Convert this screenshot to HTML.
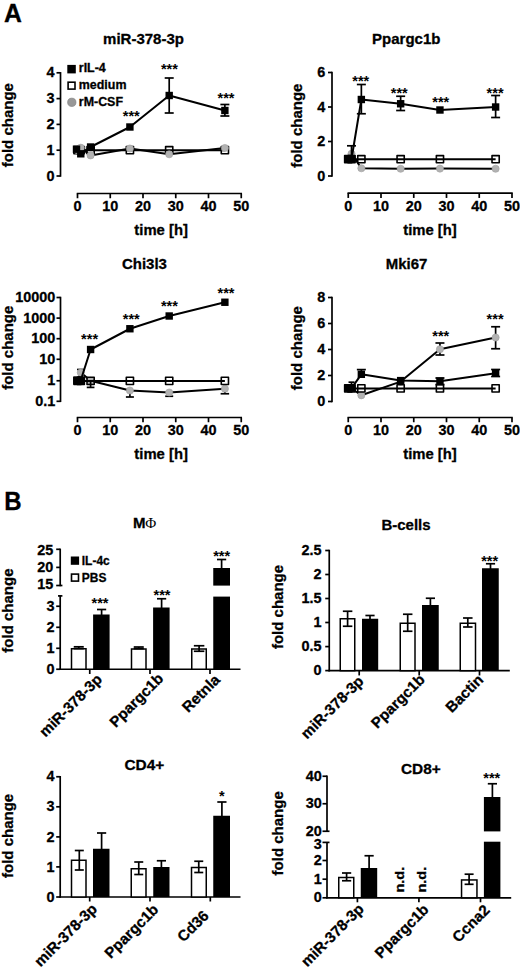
<!DOCTYPE html>
<html>
<head>
<meta charset="utf-8">
<title>Figure</title>
<style>
html, body { margin: 0; padding: 0; background: #ffffff; }
body { width: 520px; height: 971px; overflow: hidden; font-family: "Liberation Sans", sans-serif; }
svg { display: block; }
svg text { font-family: "Liberation Sans", sans-serif; }
</style>
</head>
<body>
<svg width="520" height="971" viewBox="0 0 520 971">
<rect x="0" y="0" width="520" height="971" fill="#ffffff"/>
<line x1="60.5" y1="72.05" x2="60.5" y2="176.75" stroke="#000" stroke-width="1.7" stroke-linecap="butt"/>
<line x1="56.5" y1="72.8" x2="60.5" y2="72.8" stroke="#000" stroke-width="1.7" stroke-linecap="butt"/>
<text transform="translate(54.6,77.4) scale(0.95,1)" font-size="15.2" text-anchor="end" font-weight="bold" fill="#000" stroke="#000" stroke-width="0.3">4</text>
<line x1="56.5" y1="98.6" x2="60.5" y2="98.6" stroke="#000" stroke-width="1.7" stroke-linecap="butt"/>
<text transform="translate(54.6,103.2) scale(0.95,1)" font-size="15.2" text-anchor="end" font-weight="bold" fill="#000" stroke="#000" stroke-width="0.3">3</text>
<line x1="56.5" y1="124.4" x2="60.5" y2="124.4" stroke="#000" stroke-width="1.7" stroke-linecap="butt"/>
<text transform="translate(54.6,129) scale(0.95,1)" font-size="15.2" text-anchor="end" font-weight="bold" fill="#000" stroke="#000" stroke-width="0.3">2</text>
<line x1="56.5" y1="150.2" x2="60.5" y2="150.2" stroke="#000" stroke-width="1.7" stroke-linecap="butt"/>
<text transform="translate(54.6,154.8) scale(0.95,1)" font-size="15.2" text-anchor="end" font-weight="bold" fill="#000" stroke="#000" stroke-width="0.3">1</text>
<line x1="56.5" y1="176" x2="60.5" y2="176" stroke="#000" stroke-width="1.7" stroke-linecap="butt"/>
<text transform="translate(54.6,180.6) scale(0.95,1)" font-size="15.2" text-anchor="end" font-weight="bold" fill="#000" stroke="#000" stroke-width="0.3">0</text>
<line x1="76.75" y1="193.5" x2="242" y2="193.5" stroke="#000" stroke-width="1.7" stroke-linecap="butt"/>
<line x1="77.5" y1="193.5" x2="77.5" y2="198.25" stroke="#000" stroke-width="1.7" stroke-linecap="butt"/>
<text transform="translate(77.5,211.2) scale(0.95,1)" font-size="15.2" text-anchor="middle" font-weight="bold" fill="#000" stroke="#000" stroke-width="0.3">0</text>
<line x1="110.25" y1="193.5" x2="110.25" y2="198.25" stroke="#000" stroke-width="1.7" stroke-linecap="butt"/>
<text transform="translate(110.25,211.2) scale(0.95,1)" font-size="15.2" text-anchor="middle" font-weight="bold" fill="#000" stroke="#000" stroke-width="0.3">10</text>
<line x1="143" y1="193.5" x2="143" y2="198.25" stroke="#000" stroke-width="1.7" stroke-linecap="butt"/>
<text transform="translate(143,211.2) scale(0.95,1)" font-size="15.2" text-anchor="middle" font-weight="bold" fill="#000" stroke="#000" stroke-width="0.3">20</text>
<line x1="175.75" y1="193.5" x2="175.75" y2="198.25" stroke="#000" stroke-width="1.7" stroke-linecap="butt"/>
<text transform="translate(175.75,211.2) scale(0.95,1)" font-size="15.2" text-anchor="middle" font-weight="bold" fill="#000" stroke="#000" stroke-width="0.3">30</text>
<line x1="208.5" y1="193.5" x2="208.5" y2="198.25" stroke="#000" stroke-width="1.7" stroke-linecap="butt"/>
<text transform="translate(208.5,211.2) scale(0.95,1)" font-size="15.2" text-anchor="middle" font-weight="bold" fill="#000" stroke="#000" stroke-width="0.3">40</text>
<line x1="241.25" y1="193.5" x2="241.25" y2="198.25" stroke="#000" stroke-width="1.7" stroke-linecap="butt"/>
<text transform="translate(241.25,211.2) scale(0.95,1)" font-size="15.2" text-anchor="middle" font-weight="bold" fill="#000" stroke="#000" stroke-width="0.3">50</text>
<text transform="translate(161.1,234.5) scale(0.99,1)" font-size="15" text-anchor="middle" font-weight="bold" fill="#000" stroke="#000" stroke-width="0.3">time [h]</text>
<text transform="translate(143.5,43.9)" font-size="15" text-anchor="middle" font-weight="bold" fill="#000" stroke="#000" stroke-width="0.3">miR-378-3p</text>
<text transform="translate(13.3,125.2) rotate(-90)" font-size="15" text-anchor="middle" font-weight="bold" fill="#000" stroke="#000" stroke-width="0.3">fold change</text>
<polyline points="77.5,150.2 80.78,150.2 90.6,150.2 129.9,150.2 169.2,150.2 224.88,150.2" fill="none" stroke="#000" stroke-width="2" stroke-linejoin="round"/>
<rect x="73.9" y="146.6" width="7.2" height="7.2" fill="none" stroke="#000" stroke-width="1.6" stroke-linejoin="round"/>
<rect x="77.18" y="146.6" width="7.2" height="7.2" fill="none" stroke="#000" stroke-width="1.6" stroke-linejoin="round"/>
<rect x="87" y="146.6" width="7.2" height="7.2" fill="none" stroke="#000" stroke-width="1.6" stroke-linejoin="round"/>
<rect x="126.3" y="146.6" width="7.2" height="7.2" fill="none" stroke="#000" stroke-width="1.6" stroke-linejoin="round"/>
<rect x="165.6" y="146.6" width="7.2" height="7.2" fill="none" stroke="#000" stroke-width="1.6" stroke-linejoin="round"/>
<rect x="221.28" y="146.6" width="7.2" height="7.2" fill="none" stroke="#000" stroke-width="1.6" stroke-linejoin="round"/>
<polyline points="77.5,150.2 80.78,147.7 90.6,155.4 129.9,148.5 169.2,154.25 224.88,148" fill="none" stroke="#000" stroke-width="2" stroke-linejoin="round"/>
<circle cx="77.5" cy="150.2" r="3.6" fill="#b2b2b2" stroke="#a0a0a0" stroke-width="0.6"/>
<circle cx="80.78" cy="147.7" r="3.6" fill="#b2b2b2" stroke="#a0a0a0" stroke-width="0.6"/>
<circle cx="90.6" cy="155.4" r="3.6" fill="#b2b2b2" stroke="#a0a0a0" stroke-width="0.6"/>
<circle cx="129.9" cy="148.5" r="3.6" fill="#b2b2b2" stroke="#a0a0a0" stroke-width="0.6"/>
<circle cx="169.2" cy="154.25" r="3.6" fill="#b2b2b2" stroke="#a0a0a0" stroke-width="0.6"/>
<circle cx="224.88" cy="148" r="3.6" fill="#b2b2b2" stroke="#a0a0a0" stroke-width="0.6"/>
<line x1="169.2" y1="78" x2="169.2" y2="113" stroke="#000" stroke-width="1.7" stroke-linecap="butt"/>
<line x1="164.7" y1="78" x2="173.7" y2="78" stroke="#000" stroke-width="1.7" stroke-linecap="butt"/>
<line x1="164.7" y1="113" x2="173.7" y2="113" stroke="#000" stroke-width="1.7" stroke-linecap="butt"/>
<line x1="224.88" y1="104.5" x2="224.88" y2="116" stroke="#000" stroke-width="1.7" stroke-linecap="butt"/>
<line x1="220.38" y1="104.5" x2="229.38" y2="104.5" stroke="#000" stroke-width="1.7" stroke-linecap="butt"/>
<line x1="220.38" y1="116" x2="229.38" y2="116" stroke="#000" stroke-width="1.7" stroke-linecap="butt"/>
<polyline points="76.5,149.2 80.78,153.8 90.6,147 129.9,127 169.2,95.5 224.88,110.5" fill="none" stroke="#000" stroke-width="2" stroke-linejoin="round"/>
<rect x="72.8" y="145.5" width="7.4" height="7.4" fill="#000"/>
<rect x="77.08" y="150.1" width="7.4" height="7.4" fill="#000"/>
<rect x="86.9" y="143.3" width="7.4" height="7.4" fill="#000"/>
<rect x="126.2" y="123.3" width="7.4" height="7.4" fill="#000"/>
<rect x="165.5" y="91.8" width="7.4" height="7.4" fill="#000"/>
<rect x="221.18" y="106.8" width="7.4" height="7.4" fill="#000"/>
<text transform="translate(131.3,120.6) scale(0.97,1)" font-size="15" text-anchor="middle" font-weight="bold" fill="#000">***</text>
<text transform="translate(169.4,73.85) scale(0.97,1)" font-size="15" text-anchor="middle" font-weight="bold" fill="#000">***</text>
<text transform="translate(226,102.6) scale(0.97,1)" font-size="15" text-anchor="middle" font-weight="bold" fill="#000">***</text>
<rect x="67.3" y="64.9" width="8.5" height="8.5" fill="#000"/>
<text transform="translate(78.8,72.4) scale(1.02,1)" font-size="12.2" text-anchor="start" font-weight="bold" fill="#000" stroke="#000" stroke-width="0.3">rIL-4</text>
<rect x="68.1" y="82.2" width="6.9" height="6.9" fill="none" stroke="#000" stroke-width="1.6" stroke-linejoin="miter"/>
<text transform="translate(78.8,89.3) scale(1.02,1)" font-size="12.2" text-anchor="start" font-weight="bold" fill="#000" stroke="#000" stroke-width="0.3">medium</text>
<circle cx="71.8" cy="102.3" r="4.1" fill="#989898" stroke="#848484" stroke-width="0.8"/>
<text transform="translate(78.8,106) scale(1.02,1)" font-size="12.2" text-anchor="start" font-weight="bold" fill="#000" stroke="#000" stroke-width="0.3">rM-CSF</text>
<line x1="332" y1="71.75" x2="332" y2="176.75" stroke="#000" stroke-width="1.7" stroke-linecap="butt"/>
<line x1="328" y1="72.5" x2="332" y2="72.5" stroke="#000" stroke-width="1.7" stroke-linecap="butt"/>
<text transform="translate(325.3,77.1) scale(0.95,1)" font-size="15.2" text-anchor="end" font-weight="bold" fill="#000" stroke="#000" stroke-width="0.3">6</text>
<line x1="328" y1="107" x2="332" y2="107" stroke="#000" stroke-width="1.7" stroke-linecap="butt"/>
<text transform="translate(325.3,111.6) scale(0.95,1)" font-size="15.2" text-anchor="end" font-weight="bold" fill="#000" stroke="#000" stroke-width="0.3">4</text>
<line x1="328" y1="141.5" x2="332" y2="141.5" stroke="#000" stroke-width="1.7" stroke-linecap="butt"/>
<text transform="translate(325.3,146.1) scale(0.95,1)" font-size="15.2" text-anchor="end" font-weight="bold" fill="#000" stroke="#000" stroke-width="0.3">2</text>
<line x1="328" y1="176" x2="332" y2="176" stroke="#000" stroke-width="1.7" stroke-linecap="butt"/>
<text transform="translate(325.3,180.6) scale(0.95,1)" font-size="15.2" text-anchor="end" font-weight="bold" fill="#000" stroke="#000" stroke-width="0.3">0</text>
<line x1="347.5" y1="193.2" x2="512.75" y2="193.2" stroke="#000" stroke-width="1.7" stroke-linecap="butt"/>
<line x1="348.25" y1="193.2" x2="348.25" y2="197.95" stroke="#000" stroke-width="1.7" stroke-linecap="butt"/>
<text transform="translate(348.25,210.9) scale(0.95,1)" font-size="15.2" text-anchor="middle" font-weight="bold" fill="#000" stroke="#000" stroke-width="0.3">0</text>
<line x1="381" y1="193.2" x2="381" y2="197.95" stroke="#000" stroke-width="1.7" stroke-linecap="butt"/>
<text transform="translate(381,210.9) scale(0.95,1)" font-size="15.2" text-anchor="middle" font-weight="bold" fill="#000" stroke="#000" stroke-width="0.3">10</text>
<line x1="413.75" y1="193.2" x2="413.75" y2="197.95" stroke="#000" stroke-width="1.7" stroke-linecap="butt"/>
<text transform="translate(413.75,210.9) scale(0.95,1)" font-size="15.2" text-anchor="middle" font-weight="bold" fill="#000" stroke="#000" stroke-width="0.3">20</text>
<line x1="446.5" y1="193.2" x2="446.5" y2="197.95" stroke="#000" stroke-width="1.7" stroke-linecap="butt"/>
<text transform="translate(446.5,210.9) scale(0.95,1)" font-size="15.2" text-anchor="middle" font-weight="bold" fill="#000" stroke="#000" stroke-width="0.3">30</text>
<line x1="479.25" y1="193.2" x2="479.25" y2="197.95" stroke="#000" stroke-width="1.7" stroke-linecap="butt"/>
<text transform="translate(479.25,210.9) scale(0.95,1)" font-size="15.2" text-anchor="middle" font-weight="bold" fill="#000" stroke="#000" stroke-width="0.3">40</text>
<line x1="512" y1="193.2" x2="512" y2="197.95" stroke="#000" stroke-width="1.7" stroke-linecap="butt"/>
<text transform="translate(512,210.9) scale(0.95,1)" font-size="15.2" text-anchor="middle" font-weight="bold" fill="#000" stroke="#000" stroke-width="0.3">50</text>
<text transform="translate(430,234.5) scale(0.99,1)" font-size="15" text-anchor="middle" font-weight="bold" fill="#000" stroke="#000" stroke-width="0.3">time [h]</text>
<text transform="translate(406.25,44.15)" font-size="15" text-anchor="middle" font-weight="bold" fill="#000" stroke="#000" stroke-width="0.3">Ppargc1b</text>
<text transform="translate(302.2,125.7) rotate(-90)" font-size="15" text-anchor="middle" font-weight="bold" fill="#000" stroke="#000" stroke-width="0.3">fold change</text>
<polyline points="348.25,158.75 351.52,153.75 361.35,168.25 400.65,168.75 439.95,168.6 495.62,168.75" fill="none" stroke="#000" stroke-width="2" stroke-linejoin="round"/>
<circle cx="348.25" cy="158.75" r="3.6" fill="#b2b2b2" stroke="#a0a0a0" stroke-width="0.6"/>
<circle cx="351.52" cy="153.75" r="3.6" fill="#b2b2b2" stroke="#a0a0a0" stroke-width="0.6"/>
<circle cx="361.35" cy="168.25" r="3.6" fill="#b2b2b2" stroke="#a0a0a0" stroke-width="0.6"/>
<circle cx="400.65" cy="168.75" r="3.6" fill="#b2b2b2" stroke="#a0a0a0" stroke-width="0.6"/>
<circle cx="439.95" cy="168.6" r="3.6" fill="#b2b2b2" stroke="#a0a0a0" stroke-width="0.6"/>
<circle cx="495.62" cy="168.75" r="3.6" fill="#b2b2b2" stroke="#a0a0a0" stroke-width="0.6"/>
<polyline points="348.25,159.2 351.52,159.2 361.35,159.2 400.65,159.2 439.95,159.2 495.62,159.2" fill="none" stroke="#000" stroke-width="2" stroke-linejoin="round"/>
<rect x="344.65" y="155.6" width="7.2" height="7.2" fill="none" stroke="#000" stroke-width="1.6" stroke-linejoin="round"/>
<rect x="347.92" y="155.6" width="7.2" height="7.2" fill="none" stroke="#000" stroke-width="1.6" stroke-linejoin="round"/>
<rect x="357.75" y="155.6" width="7.2" height="7.2" fill="none" stroke="#000" stroke-width="1.6" stroke-linejoin="round"/>
<rect x="397.05" y="155.6" width="7.2" height="7.2" fill="none" stroke="#000" stroke-width="1.6" stroke-linejoin="round"/>
<rect x="436.35" y="155.6" width="7.2" height="7.2" fill="none" stroke="#000" stroke-width="1.6" stroke-linejoin="round"/>
<rect x="492.02" y="155.6" width="7.2" height="7.2" fill="none" stroke="#000" stroke-width="1.6" stroke-linejoin="round"/>
<line x1="351.52" y1="145.8" x2="351.52" y2="159" stroke="#000" stroke-width="1.7" stroke-linecap="butt"/>
<line x1="347.02" y1="145.8" x2="356.02" y2="145.8" stroke="#000" stroke-width="1.7" stroke-linecap="butt"/>
<line x1="361.35" y1="84.5" x2="361.35" y2="113.75" stroke="#000" stroke-width="1.7" stroke-linecap="butt"/>
<line x1="356.85" y1="84.5" x2="365.85" y2="84.5" stroke="#000" stroke-width="1.7" stroke-linecap="butt"/>
<line x1="356.85" y1="113.75" x2="365.85" y2="113.75" stroke="#000" stroke-width="1.7" stroke-linecap="butt"/>
<line x1="400.65" y1="96.25" x2="400.65" y2="110.5" stroke="#000" stroke-width="1.7" stroke-linecap="butt"/>
<line x1="396.15" y1="96.25" x2="405.15" y2="96.25" stroke="#000" stroke-width="1.7" stroke-linecap="butt"/>
<line x1="396.15" y1="110.5" x2="405.15" y2="110.5" stroke="#000" stroke-width="1.7" stroke-linecap="butt"/>
<line x1="495.62" y1="95.5" x2="495.62" y2="117.5" stroke="#000" stroke-width="1.7" stroke-linecap="butt"/>
<line x1="491.12" y1="95.5" x2="500.12" y2="95.5" stroke="#000" stroke-width="1.7" stroke-linecap="butt"/>
<line x1="491.12" y1="117.5" x2="500.12" y2="117.5" stroke="#000" stroke-width="1.7" stroke-linecap="butt"/>
<polyline points="348.25,159 351.52,159 361.35,99.5 400.65,103.75 439.95,110 495.62,107" fill="none" stroke="#000" stroke-width="2" stroke-linejoin="round"/>
<rect x="344.55" y="155.3" width="7.4" height="7.4" fill="#000"/>
<rect x="347.82" y="155.3" width="7.4" height="7.4" fill="#000"/>
<rect x="357.65" y="95.8" width="7.4" height="7.4" fill="#000"/>
<rect x="396.95" y="100.05" width="7.4" height="7.4" fill="#000"/>
<rect x="436.25" y="106.3" width="7.4" height="7.4" fill="#000"/>
<rect x="491.93" y="103.3" width="7.4" height="7.4" fill="#000"/>
<text transform="translate(360.75,86.35) scale(0.97,1)" font-size="15" text-anchor="middle" font-weight="bold" fill="#000">***</text>
<text transform="translate(399.25,98.1) scale(0.97,1)" font-size="15" text-anchor="middle" font-weight="bold" fill="#000">***</text>
<text transform="translate(440.75,106.85) scale(0.97,1)" font-size="15" text-anchor="middle" font-weight="bold" fill="#000">***</text>
<text transform="translate(495.1,98.1) scale(0.97,1)" font-size="15" text-anchor="middle" font-weight="bold" fill="#000">***</text>
<line x1="60.5" y1="296.75" x2="60.5" y2="402.05" stroke="#000" stroke-width="1.7" stroke-linecap="butt"/>
<line x1="56.5" y1="297.5" x2="60.5" y2="297.5" stroke="#000" stroke-width="1.7" stroke-linecap="butt"/>
<text transform="translate(55.4,302.1) scale(0.95,1)" font-size="15.2" text-anchor="end" font-weight="bold" fill="#000" stroke="#000" stroke-width="0.3">10000</text>
<line x1="56.5" y1="318.1" x2="60.5" y2="318.1" stroke="#000" stroke-width="1.7" stroke-linecap="butt"/>
<text transform="translate(55.4,322.7) scale(0.95,1)" font-size="15.2" text-anchor="end" font-weight="bold" fill="#000" stroke="#000" stroke-width="0.3">1000</text>
<line x1="56.5" y1="338.7" x2="60.5" y2="338.7" stroke="#000" stroke-width="1.7" stroke-linecap="butt"/>
<text transform="translate(55.4,343.3) scale(0.95,1)" font-size="15.2" text-anchor="end" font-weight="bold" fill="#000" stroke="#000" stroke-width="0.3">100</text>
<line x1="56.5" y1="359.3" x2="60.5" y2="359.3" stroke="#000" stroke-width="1.7" stroke-linecap="butt"/>
<text transform="translate(55.4,363.9) scale(0.95,1)" font-size="15.2" text-anchor="end" font-weight="bold" fill="#000" stroke="#000" stroke-width="0.3">10</text>
<line x1="56.5" y1="380.75" x2="60.5" y2="380.75" stroke="#000" stroke-width="1.7" stroke-linecap="butt"/>
<text transform="translate(55.4,385.35) scale(0.95,1)" font-size="15.2" text-anchor="end" font-weight="bold" fill="#000" stroke="#000" stroke-width="0.3">1</text>
<line x1="56.5" y1="401.3" x2="60.5" y2="401.3" stroke="#000" stroke-width="1.7" stroke-linecap="butt"/>
<text transform="translate(55.4,405.9) scale(0.95,1)" font-size="15.2" text-anchor="end" font-weight="bold" fill="#000" stroke="#000" stroke-width="0.3">0.1</text>
<line x1="76.75" y1="417.5" x2="242" y2="417.5" stroke="#000" stroke-width="1.7" stroke-linecap="butt"/>
<line x1="77.5" y1="417.5" x2="77.5" y2="422.25" stroke="#000" stroke-width="1.7" stroke-linecap="butt"/>
<text transform="translate(77.5,435.2) scale(0.95,1)" font-size="15.2" text-anchor="middle" font-weight="bold" fill="#000" stroke="#000" stroke-width="0.3">0</text>
<line x1="110.25" y1="417.5" x2="110.25" y2="422.25" stroke="#000" stroke-width="1.7" stroke-linecap="butt"/>
<text transform="translate(110.25,435.2) scale(0.95,1)" font-size="15.2" text-anchor="middle" font-weight="bold" fill="#000" stroke="#000" stroke-width="0.3">10</text>
<line x1="143" y1="417.5" x2="143" y2="422.25" stroke="#000" stroke-width="1.7" stroke-linecap="butt"/>
<text transform="translate(143,435.2) scale(0.95,1)" font-size="15.2" text-anchor="middle" font-weight="bold" fill="#000" stroke="#000" stroke-width="0.3">20</text>
<line x1="175.75" y1="417.5" x2="175.75" y2="422.25" stroke="#000" stroke-width="1.7" stroke-linecap="butt"/>
<text transform="translate(175.75,435.2) scale(0.95,1)" font-size="15.2" text-anchor="middle" font-weight="bold" fill="#000" stroke="#000" stroke-width="0.3">30</text>
<line x1="208.5" y1="417.5" x2="208.5" y2="422.25" stroke="#000" stroke-width="1.7" stroke-linecap="butt"/>
<text transform="translate(208.5,435.2) scale(0.95,1)" font-size="15.2" text-anchor="middle" font-weight="bold" fill="#000" stroke="#000" stroke-width="0.3">40</text>
<line x1="241.25" y1="417.5" x2="241.25" y2="422.25" stroke="#000" stroke-width="1.7" stroke-linecap="butt"/>
<text transform="translate(241.25,435.2) scale(0.95,1)" font-size="15.2" text-anchor="middle" font-weight="bold" fill="#000" stroke="#000" stroke-width="0.3">50</text>
<text transform="translate(161.1,459.25) scale(0.99,1)" font-size="15" text-anchor="middle" font-weight="bold" fill="#000" stroke="#000" stroke-width="0.3">time [h]</text>
<text transform="translate(144.4,269.4)" font-size="15" text-anchor="middle" font-weight="bold" fill="#000" stroke="#000" stroke-width="0.3">Chi3l3</text>
<text transform="translate(13,347.75) rotate(-90)" font-size="15" text-anchor="middle" font-weight="bold" fill="#000" stroke="#000" stroke-width="0.3">fold change</text>
<line x1="80.78" y1="369.5" x2="80.78" y2="372.6" stroke="#000" stroke-width="1.7" stroke-linecap="butt"/>
<line x1="77.03" y1="369.5" x2="84.53" y2="369.5" stroke="#000" stroke-width="1.7" stroke-linecap="butt"/>
<line x1="129.9" y1="390.5" x2="129.9" y2="397" stroke="#000" stroke-width="1.7" stroke-linecap="butt"/>
<line x1="125.9" y1="397" x2="133.9" y2="397" stroke="#000" stroke-width="1.7" stroke-linecap="butt"/>
<line x1="169.2" y1="392.5" x2="169.2" y2="396.25" stroke="#000" stroke-width="1.7" stroke-linecap="butt"/>
<line x1="165.2" y1="396.25" x2="173.2" y2="396.25" stroke="#000" stroke-width="1.7" stroke-linecap="butt"/>
<line x1="224.88" y1="388.75" x2="224.88" y2="393.75" stroke="#000" stroke-width="1.7" stroke-linecap="butt"/>
<line x1="220.62" y1="393.75" x2="229.12" y2="393.75" stroke="#000" stroke-width="1.7" stroke-linecap="butt"/>
<polyline points="77.5,380.75 80.78,372.6 90.6,380.8 129.9,390.5 169.2,392.5 224.88,388.75" fill="none" stroke="#000" stroke-width="2" stroke-linejoin="round"/>
<circle cx="77.5" cy="380.75" r="3.6" fill="#b2b2b2" stroke="#a0a0a0" stroke-width="0.6"/>
<circle cx="80.78" cy="372.6" r="3.6" fill="#b2b2b2" stroke="#a0a0a0" stroke-width="0.6"/>
<circle cx="90.6" cy="380.8" r="3.6" fill="#b2b2b2" stroke="#a0a0a0" stroke-width="0.6"/>
<circle cx="129.9" cy="390.5" r="3.6" fill="#b2b2b2" stroke="#a0a0a0" stroke-width="0.6"/>
<circle cx="169.2" cy="392.5" r="3.6" fill="#b2b2b2" stroke="#a0a0a0" stroke-width="0.6"/>
<circle cx="224.88" cy="388.75" r="3.6" fill="#b2b2b2" stroke="#a0a0a0" stroke-width="0.6"/>
<line x1="90.6" y1="380.8" x2="90.6" y2="387.4" stroke="#000" stroke-width="1.7" stroke-linecap="butt"/>
<line x1="86.75" y1="387.4" x2="94.45" y2="387.4" stroke="#000" stroke-width="1.7" stroke-linecap="butt"/>
<polyline points="77.5,380.9 80.78,380.9 90.6,380.9 129.9,380.9 169.2,380.9 224.88,380.9" fill="none" stroke="#000" stroke-width="2" stroke-linejoin="round"/>
<rect x="73.9" y="377.3" width="7.2" height="7.2" fill="none" stroke="#000" stroke-width="1.6" stroke-linejoin="round"/>
<rect x="77.18" y="377.3" width="7.2" height="7.2" fill="none" stroke="#000" stroke-width="1.6" stroke-linejoin="round"/>
<rect x="87" y="377.3" width="7.2" height="7.2" fill="none" stroke="#000" stroke-width="1.6" stroke-linejoin="round"/>
<rect x="126.3" y="377.3" width="7.2" height="7.2" fill="none" stroke="#000" stroke-width="1.6" stroke-linejoin="round"/>
<rect x="165.6" y="377.3" width="7.2" height="7.2" fill="none" stroke="#000" stroke-width="1.6" stroke-linejoin="round"/>
<rect x="221.28" y="377.3" width="7.2" height="7.2" fill="none" stroke="#000" stroke-width="1.6" stroke-linejoin="round"/>
<polyline points="77,380.3 80.78,380.3 90.6,349.5 129.9,328.75 169.2,316 224.88,302.25" fill="none" stroke="#000" stroke-width="2" stroke-linejoin="round"/>
<rect x="73.3" y="376.6" width="7.4" height="7.4" fill="#000"/>
<rect x="77.08" y="376.6" width="7.4" height="7.4" fill="#000"/>
<rect x="86.9" y="345.8" width="7.4" height="7.4" fill="#000"/>
<rect x="126.2" y="325.05" width="7.4" height="7.4" fill="#000"/>
<rect x="165.5" y="312.3" width="7.4" height="7.4" fill="#000"/>
<rect x="221.18" y="298.55" width="7.4" height="7.4" fill="#000"/>
<text transform="translate(89.6,344.35) scale(0.97,1)" font-size="15" text-anchor="middle" font-weight="bold" fill="#000">***</text>
<text transform="translate(131.3,323.85) scale(0.97,1)" font-size="15" text-anchor="middle" font-weight="bold" fill="#000">***</text>
<text transform="translate(169.4,310.6) scale(0.97,1)" font-size="15" text-anchor="middle" font-weight="bold" fill="#000">***</text>
<text transform="translate(226,298.1) scale(0.97,1)" font-size="15" text-anchor="middle" font-weight="bold" fill="#000">***</text>
<line x1="332" y1="296.75" x2="332" y2="402.25" stroke="#000" stroke-width="1.7" stroke-linecap="butt"/>
<line x1="328" y1="297.5" x2="332" y2="297.5" stroke="#000" stroke-width="1.7" stroke-linecap="butt"/>
<text transform="translate(325.3,302.1) scale(0.95,1)" font-size="15.2" text-anchor="end" font-weight="bold" fill="#000" stroke="#000" stroke-width="0.3">8</text>
<line x1="328" y1="323.5" x2="332" y2="323.5" stroke="#000" stroke-width="1.7" stroke-linecap="butt"/>
<text transform="translate(325.3,328.1) scale(0.95,1)" font-size="15.2" text-anchor="end" font-weight="bold" fill="#000" stroke="#000" stroke-width="0.3">6</text>
<line x1="328" y1="349.5" x2="332" y2="349.5" stroke="#000" stroke-width="1.7" stroke-linecap="butt"/>
<text transform="translate(325.3,354.1) scale(0.95,1)" font-size="15.2" text-anchor="end" font-weight="bold" fill="#000" stroke="#000" stroke-width="0.3">4</text>
<line x1="328" y1="375.5" x2="332" y2="375.5" stroke="#000" stroke-width="1.7" stroke-linecap="butt"/>
<text transform="translate(325.3,380.1) scale(0.95,1)" font-size="15.2" text-anchor="end" font-weight="bold" fill="#000" stroke="#000" stroke-width="0.3">2</text>
<line x1="328" y1="401.5" x2="332" y2="401.5" stroke="#000" stroke-width="1.7" stroke-linecap="butt"/>
<text transform="translate(325.3,406.1) scale(0.95,1)" font-size="15.2" text-anchor="end" font-weight="bold" fill="#000" stroke="#000" stroke-width="0.3">0</text>
<line x1="347.5" y1="417.5" x2="512.75" y2="417.5" stroke="#000" stroke-width="1.7" stroke-linecap="butt"/>
<line x1="348.25" y1="417.5" x2="348.25" y2="422.25" stroke="#000" stroke-width="1.7" stroke-linecap="butt"/>
<text transform="translate(348.25,435.2) scale(0.95,1)" font-size="15.2" text-anchor="middle" font-weight="bold" fill="#000" stroke="#000" stroke-width="0.3">0</text>
<line x1="381" y1="417.5" x2="381" y2="422.25" stroke="#000" stroke-width="1.7" stroke-linecap="butt"/>
<text transform="translate(381,435.2) scale(0.95,1)" font-size="15.2" text-anchor="middle" font-weight="bold" fill="#000" stroke="#000" stroke-width="0.3">10</text>
<line x1="413.75" y1="417.5" x2="413.75" y2="422.25" stroke="#000" stroke-width="1.7" stroke-linecap="butt"/>
<text transform="translate(413.75,435.2) scale(0.95,1)" font-size="15.2" text-anchor="middle" font-weight="bold" fill="#000" stroke="#000" stroke-width="0.3">20</text>
<line x1="446.5" y1="417.5" x2="446.5" y2="422.25" stroke="#000" stroke-width="1.7" stroke-linecap="butt"/>
<text transform="translate(446.5,435.2) scale(0.95,1)" font-size="15.2" text-anchor="middle" font-weight="bold" fill="#000" stroke="#000" stroke-width="0.3">30</text>
<line x1="479.25" y1="417.5" x2="479.25" y2="422.25" stroke="#000" stroke-width="1.7" stroke-linecap="butt"/>
<text transform="translate(479.25,435.2) scale(0.95,1)" font-size="15.2" text-anchor="middle" font-weight="bold" fill="#000" stroke="#000" stroke-width="0.3">40</text>
<line x1="512" y1="417.5" x2="512" y2="422.25" stroke="#000" stroke-width="1.7" stroke-linecap="butt"/>
<text transform="translate(512,435.2) scale(0.95,1)" font-size="15.2" text-anchor="middle" font-weight="bold" fill="#000" stroke="#000" stroke-width="0.3">50</text>
<text transform="translate(430,459.25) scale(0.99,1)" font-size="15" text-anchor="middle" font-weight="bold" fill="#000" stroke="#000" stroke-width="0.3">time [h]</text>
<text transform="translate(406.5,269.4)" font-size="15" text-anchor="middle" font-weight="bold" fill="#000" stroke="#000" stroke-width="0.3">Mki67</text>
<text transform="translate(302.3,348.2) rotate(-90)" font-size="15" text-anchor="middle" font-weight="bold" fill="#000" stroke="#000" stroke-width="0.3">fold change</text>
<line x1="439.95" y1="343" x2="439.95" y2="355" stroke="#000" stroke-width="1.7" stroke-linecap="butt"/>
<line x1="435.45" y1="343" x2="444.45" y2="343" stroke="#000" stroke-width="1.7" stroke-linecap="butt"/>
<line x1="435.45" y1="355" x2="444.45" y2="355" stroke="#000" stroke-width="1.7" stroke-linecap="butt"/>
<line x1="495.62" y1="326.75" x2="495.62" y2="348.75" stroke="#000" stroke-width="1.7" stroke-linecap="butt"/>
<line x1="491.12" y1="326.75" x2="500.12" y2="326.75" stroke="#000" stroke-width="1.7" stroke-linecap="butt"/>
<line x1="491.12" y1="348.75" x2="500.12" y2="348.75" stroke="#000" stroke-width="1.7" stroke-linecap="butt"/>
<polyline points="348.25,388.5 351.52,388.5 361.35,395.3 400.65,381.6 439.95,349.25 495.62,337.5" fill="none" stroke="#000" stroke-width="2" stroke-linejoin="round"/>
<circle cx="348.25" cy="388.5" r="3.6" fill="#b2b2b2" stroke="#a0a0a0" stroke-width="0.6"/>
<circle cx="351.52" cy="388.5" r="3.6" fill="#b2b2b2" stroke="#a0a0a0" stroke-width="0.6"/>
<circle cx="361.35" cy="395.3" r="3.6" fill="#b2b2b2" stroke="#a0a0a0" stroke-width="0.6"/>
<circle cx="400.65" cy="381.6" r="3.6" fill="#b2b2b2" stroke="#a0a0a0" stroke-width="0.6"/>
<circle cx="439.95" cy="349.25" r="3.6" fill="#b2b2b2" stroke="#a0a0a0" stroke-width="0.6"/>
<circle cx="495.62" cy="337.5" r="3.6" fill="#b2b2b2" stroke="#a0a0a0" stroke-width="0.6"/>
<polyline points="348.25,388.4 351.52,388.4 361.35,388.4 400.65,388.4 439.95,388.4 495.62,388.4" fill="none" stroke="#000" stroke-width="2" stroke-linejoin="round"/>
<rect x="344.65" y="384.8" width="7.2" height="7.2" fill="none" stroke="#000" stroke-width="1.6" stroke-linejoin="round"/>
<rect x="347.92" y="384.8" width="7.2" height="7.2" fill="none" stroke="#000" stroke-width="1.6" stroke-linejoin="round"/>
<rect x="357.75" y="384.8" width="7.2" height="7.2" fill="none" stroke="#000" stroke-width="1.6" stroke-linejoin="round"/>
<rect x="397.05" y="384.8" width="7.2" height="7.2" fill="none" stroke="#000" stroke-width="1.6" stroke-linejoin="round"/>
<rect x="436.35" y="384.8" width="7.2" height="7.2" fill="none" stroke="#000" stroke-width="1.6" stroke-linejoin="round"/>
<rect x="492.02" y="384.8" width="7.2" height="7.2" fill="none" stroke="#000" stroke-width="1.6" stroke-linejoin="round"/>
<line x1="351.52" y1="382.2" x2="351.52" y2="388.2" stroke="#000" stroke-width="1.7" stroke-linecap="butt"/>
<line x1="348.52" y1="382.2" x2="354.52" y2="382.2" stroke="#000" stroke-width="1.7" stroke-linecap="butt"/>
<line x1="361.35" y1="369.6" x2="361.35" y2="374.3" stroke="#000" stroke-width="1.7" stroke-linecap="butt"/>
<line x1="356.85" y1="369.6" x2="365.85" y2="369.6" stroke="#000" stroke-width="1.7" stroke-linecap="butt"/>
<line x1="439.95" y1="378" x2="439.95" y2="384.5" stroke="#000" stroke-width="1.7" stroke-linecap="butt"/>
<line x1="435.45" y1="378" x2="444.45" y2="378" stroke="#000" stroke-width="1.7" stroke-linecap="butt"/>
<line x1="435.45" y1="384.5" x2="444.45" y2="384.5" stroke="#000" stroke-width="1.7" stroke-linecap="butt"/>
<line x1="495.62" y1="369.5" x2="495.62" y2="376.5" stroke="#000" stroke-width="1.7" stroke-linecap="butt"/>
<line x1="491.12" y1="369.5" x2="500.12" y2="369.5" stroke="#000" stroke-width="1.7" stroke-linecap="butt"/>
<line x1="491.12" y1="376.5" x2="500.12" y2="376.5" stroke="#000" stroke-width="1.7" stroke-linecap="butt"/>
<polyline points="348.25,388.2 351.52,388.2 361.35,374.3 400.65,380.6 439.95,381.25 495.62,373.25" fill="none" stroke="#000" stroke-width="2" stroke-linejoin="round"/>
<rect x="344.55" y="384.5" width="7.4" height="7.4" fill="#000"/>
<rect x="347.82" y="384.5" width="7.4" height="7.4" fill="#000"/>
<rect x="357.65" y="370.6" width="7.4" height="7.4" fill="#000"/>
<rect x="396.95" y="376.9" width="7.4" height="7.4" fill="#000"/>
<rect x="436.25" y="377.55" width="7.4" height="7.4" fill="#000"/>
<rect x="491.93" y="369.55" width="7.4" height="7.4" fill="#000"/>
<text transform="translate(440.75,341.35) scale(0.97,1)" font-size="15" text-anchor="middle" font-weight="bold" fill="#000">***</text>
<text transform="translate(495.1,323.85) scale(0.97,1)" font-size="15" text-anchor="middle" font-weight="bold" fill="#000">***</text>
<text transform="translate(3.9,22) scale(0.99,1)" font-size="25" text-anchor="start" font-weight="bold" fill="#000" stroke="#000" stroke-width="0.3">A</text>
<text transform="translate(4.2,509.7) scale(0.96,1)" font-size="25" text-anchor="start" font-weight="bold" fill="#000" stroke="#000" stroke-width="0.3">B</text>
<line x1="60.2" y1="595.5" x2="60.2" y2="670" stroke="#000" stroke-width="1.7" stroke-linecap="butt"/>
<line x1="58" y1="595.9" x2="62.4" y2="595.9" stroke="#000" stroke-width="1.7" stroke-linecap="butt"/>
<line x1="60.2" y1="548.6" x2="60.2" y2="586.2" stroke="#000" stroke-width="1.7" stroke-linecap="butt"/>
<line x1="56.2" y1="606.25" x2="60.2" y2="606.25" stroke="#000" stroke-width="1.7" stroke-linecap="butt"/>
<text transform="translate(54.5,610.85) scale(0.95,1)" font-size="15.2" text-anchor="end" font-weight="bold" fill="#000" stroke="#000" stroke-width="0.3">3</text>
<line x1="56.2" y1="627.3" x2="60.2" y2="627.3" stroke="#000" stroke-width="1.7" stroke-linecap="butt"/>
<text transform="translate(54.5,631.9) scale(0.95,1)" font-size="15.2" text-anchor="end" font-weight="bold" fill="#000" stroke="#000" stroke-width="0.3">2</text>
<line x1="56.2" y1="648.3" x2="60.2" y2="648.3" stroke="#000" stroke-width="1.7" stroke-linecap="butt"/>
<text transform="translate(54.5,652.9) scale(0.95,1)" font-size="15.2" text-anchor="end" font-weight="bold" fill="#000" stroke="#000" stroke-width="0.3">1</text>
<line x1="56.2" y1="669.25" x2="60.2" y2="669.25" stroke="#000" stroke-width="1.7" stroke-linecap="butt"/>
<text transform="translate(54.5,673.85) scale(0.95,1)" font-size="15.2" text-anchor="end" font-weight="bold" fill="#000" stroke="#000" stroke-width="0.3">0</text>
<line x1="56.2" y1="549.3" x2="60.2" y2="549.3" stroke="#000" stroke-width="1.7" stroke-linecap="butt"/>
<text transform="translate(53.3,555.2) scale(0.95,1)" font-size="15.2" text-anchor="end" font-weight="bold" fill="#000" stroke="#000" stroke-width="0.3">25</text>
<line x1="56.2" y1="567.4" x2="60.2" y2="567.4" stroke="#000" stroke-width="1.7" stroke-linecap="butt"/>
<text transform="translate(53.3,572.4) scale(0.95,1)" font-size="15.2" text-anchor="end" font-weight="bold" fill="#000" stroke="#000" stroke-width="0.3">20</text>
<line x1="56.2" y1="585.5" x2="62.4" y2="585.5" stroke="#000" stroke-width="1.7" stroke-linecap="butt"/>
<text transform="translate(53.3,589.4) scale(0.95,1)" font-size="15.2" text-anchor="end" font-weight="bold" fill="#000" stroke="#000" stroke-width="0.3">15</text>
<line x1="59.45" y1="669.25" x2="240.5" y2="669.25" stroke="#000" stroke-width="1.7" stroke-linecap="butt"/>
<line x1="89.75" y1="669.25" x2="89.75" y2="674" stroke="#000" stroke-width="1.7" stroke-linecap="butt"/>
<line x1="150" y1="669.25" x2="150" y2="674" stroke="#000" stroke-width="1.7" stroke-linecap="butt"/>
<line x1="210" y1="669.25" x2="210" y2="674" stroke="#000" stroke-width="1.7" stroke-linecap="butt"/>
<text transform="translate(13.1,610.6) rotate(-90)" font-size="15" text-anchor="middle" font-weight="bold" fill="#000" stroke="#000" stroke-width="0.3">fold change</text>
<text transform="translate(132.9,528.3)" font-size="15" text-anchor="start" font-weight="bold" fill="#000" stroke="#000" stroke-width="0.3">M</text>
<text transform="translate(145.2,528.3)" font-size="15" text-anchor="start" font-weight="normal" style="font-family:'Liberation Serif',serif" fill="#000">&#934;</text>
<rect x="70.8" y="556.5" width="8.3" height="8.3" fill="#000"/>
<text transform="translate(81.8,564.8) scale(0.98,1)" font-size="12.2" text-anchor="start" font-weight="bold" fill="#000" stroke="#000" stroke-width="0.3">IL-4c</text>
<rect x="71.5" y="574.1" width="7" height="7" fill="none" stroke="#000" stroke-width="1.6" stroke-linejoin="miter"/>
<text transform="translate(81.8,581.7) scale(0.98,1)" font-size="12.2" text-anchor="start" font-weight="bold" fill="#000" stroke="#000" stroke-width="0.3">PBS</text>
<rect x="71.5" y="648.75" width="14.5" height="20.5" fill="#fff" stroke="#000" stroke-width="1.5" stroke-linejoin="miter"/>
<line x1="78.75" y1="646.8" x2="78.75" y2="648.6" stroke="#000" stroke-width="1.7" stroke-linecap="butt"/>
<line x1="73.75" y1="646.8" x2="83.75" y2="646.8" stroke="#000" stroke-width="1.7" stroke-linecap="butt"/>
<line x1="73.75" y1="648.6" x2="83.75" y2="648.6" stroke="#000" stroke-width="1.7" stroke-linecap="butt"/>
<line x1="101.6" y1="609.5" x2="101.6" y2="615.5" stroke="#000" stroke-width="1.7" stroke-linecap="butt"/>
<line x1="97" y1="609.5" x2="106.2" y2="609.5" stroke="#000" stroke-width="1.7" stroke-linecap="butt"/>
<rect x="93.1" y="614.5" width="16.5" height="54.75" fill="#000"/>
<rect x="131.5" y="649" width="14.5" height="20.25" fill="#fff" stroke="#000" stroke-width="1.5" stroke-linejoin="miter"/>
<line x1="138.75" y1="647" x2="138.75" y2="648.6" stroke="#000" stroke-width="1.7" stroke-linecap="butt"/>
<line x1="133.75" y1="647" x2="143.75" y2="647" stroke="#000" stroke-width="1.7" stroke-linecap="butt"/>
<line x1="133.75" y1="648.6" x2="143.75" y2="648.6" stroke="#000" stroke-width="1.7" stroke-linecap="butt"/>
<line x1="161.6" y1="598.75" x2="161.6" y2="608.5" stroke="#000" stroke-width="1.7" stroke-linecap="butt"/>
<line x1="157" y1="598.75" x2="166.2" y2="598.75" stroke="#000" stroke-width="1.7" stroke-linecap="butt"/>
<rect x="153.1" y="607.5" width="16.5" height="61.75" fill="#000"/>
<rect x="191.75" y="649" width="14.5" height="20.25" fill="#fff" stroke="#000" stroke-width="1.5" stroke-linejoin="miter"/>
<line x1="199.1" y1="645.75" x2="199.1" y2="651.25" stroke="#000" stroke-width="1.7" stroke-linecap="butt"/>
<line x1="193.85" y1="645.75" x2="204.35" y2="645.75" stroke="#000" stroke-width="1.7" stroke-linecap="butt"/>
<line x1="193.85" y1="651.25" x2="204.35" y2="651.25" stroke="#000" stroke-width="1.7" stroke-linecap="butt"/>
<line x1="221.6" y1="559.5" x2="221.6" y2="569" stroke="#000" stroke-width="1.7" stroke-linecap="butt"/>
<line x1="217" y1="559.5" x2="226.2" y2="559.5" stroke="#000" stroke-width="1.7" stroke-linecap="butt"/>
<rect x="213.25" y="568" width="16.75" height="17.6" fill="#000"/>
<rect x="213.25" y="596.6" width="16.75" height="72.65" fill="#000"/>
<text transform="translate(100,608.1) scale(0.97,1)" font-size="15" text-anchor="middle" font-weight="bold" fill="#000">***</text>
<text transform="translate(162,599.6) scale(0.97,1)" font-size="15" text-anchor="middle" font-weight="bold" fill="#000">***</text>
<text transform="translate(221.7,560.6) scale(0.97,1)" font-size="15" text-anchor="middle" font-weight="bold" fill="#000">***</text>
<text transform="translate(103,680.3) rotate(-45)" font-size="15.1" text-anchor="end" font-weight="bold" fill="#000" stroke="#000" stroke-width="0.3">miR-378-3p</text>
<text transform="translate(164.3,679.5) rotate(-45)" font-size="15.1" text-anchor="end" font-weight="bold" fill="#000" stroke="#000" stroke-width="0.3">Ppargc1b</text>
<text transform="translate(221,680.7) rotate(-45)" font-size="15.1" text-anchor="end" font-weight="bold" fill="#000" stroke="#000" stroke-width="0.3">Retnla</text>
<line x1="329.25" y1="549.75" x2="329.25" y2="671.45" stroke="#000" stroke-width="1.7" stroke-linecap="butt"/>
<line x1="325.25" y1="550.5" x2="329.25" y2="550.5" stroke="#000" stroke-width="1.7" stroke-linecap="butt"/>
<text transform="translate(321.6,555.1) scale(0.95,1)" font-size="15.2" text-anchor="end" font-weight="bold" fill="#000" stroke="#000" stroke-width="0.3">2.5</text>
<line x1="325.25" y1="574.5" x2="329.25" y2="574.5" stroke="#000" stroke-width="1.7" stroke-linecap="butt"/>
<text transform="translate(321.6,579.1) scale(0.95,1)" font-size="15.2" text-anchor="end" font-weight="bold" fill="#000" stroke="#000" stroke-width="0.3">2</text>
<line x1="325.25" y1="598.5" x2="329.25" y2="598.5" stroke="#000" stroke-width="1.7" stroke-linecap="butt"/>
<text transform="translate(321.6,603.1) scale(0.95,1)" font-size="15.2" text-anchor="end" font-weight="bold" fill="#000" stroke="#000" stroke-width="0.3">1.5</text>
<line x1="325.25" y1="622.5" x2="329.25" y2="622.5" stroke="#000" stroke-width="1.7" stroke-linecap="butt"/>
<text transform="translate(321.6,627.1) scale(0.95,1)" font-size="15.2" text-anchor="end" font-weight="bold" fill="#000" stroke="#000" stroke-width="0.3">1</text>
<line x1="325.25" y1="646.6" x2="329.25" y2="646.6" stroke="#000" stroke-width="1.7" stroke-linecap="butt"/>
<text transform="translate(321.6,651.2) scale(0.95,1)" font-size="15.2" text-anchor="end" font-weight="bold" fill="#000" stroke="#000" stroke-width="0.3">0.5</text>
<line x1="325.25" y1="670.6" x2="329.25" y2="670.6" stroke="#000" stroke-width="1.7" stroke-linecap="butt"/>
<text transform="translate(321.6,675.2) scale(0.95,1)" font-size="15.2" text-anchor="end" font-weight="bold" fill="#000" stroke="#000" stroke-width="0.3">0</text>
<line x1="328.5" y1="670.7" x2="509.8" y2="670.7" stroke="#000" stroke-width="1.7" stroke-linecap="butt"/>
<line x1="359.2" y1="670.7" x2="359.2" y2="675.45" stroke="#000" stroke-width="1.7" stroke-linecap="butt"/>
<line x1="419.2" y1="670.7" x2="419.2" y2="675.45" stroke="#000" stroke-width="1.7" stroke-linecap="butt"/>
<line x1="479.5" y1="670.7" x2="479.5" y2="675.45" stroke="#000" stroke-width="1.7" stroke-linecap="butt"/>
<text transform="translate(282.9,607) rotate(-90)" font-size="15" text-anchor="middle" font-weight="bold" fill="#000" stroke="#000" stroke-width="0.3">fold change</text>
<text transform="translate(406,529.6)" font-size="15" text-anchor="middle" font-weight="bold" fill="#000" stroke="#000" stroke-width="0.3">B-cells</text>
<rect x="340.25" y="618.75" width="14.5" height="51.95" fill="#fff" stroke="#000" stroke-width="1.5" stroke-linejoin="miter"/>
<line x1="347.6" y1="611.25" x2="347.6" y2="626.25" stroke="#000" stroke-width="1.7" stroke-linecap="butt"/>
<line x1="342.85" y1="611.25" x2="352.35" y2="611.25" stroke="#000" stroke-width="1.7" stroke-linecap="butt"/>
<line x1="342.85" y1="626.25" x2="352.35" y2="626.25" stroke="#000" stroke-width="1.7" stroke-linecap="butt"/>
<line x1="370" y1="615.5" x2="370" y2="620" stroke="#000" stroke-width="1.7" stroke-linecap="butt"/>
<line x1="365.4" y1="615.5" x2="374.6" y2="615.5" stroke="#000" stroke-width="1.7" stroke-linecap="butt"/>
<rect x="362" y="618.75" width="16.2" height="51.95" fill="#000"/>
<rect x="400.25" y="623.25" width="14.75" height="47.45" fill="#fff" stroke="#000" stroke-width="1.5" stroke-linejoin="miter"/>
<line x1="407.7" y1="614.25" x2="407.7" y2="631.25" stroke="#000" stroke-width="1.7" stroke-linecap="butt"/>
<line x1="402.95" y1="614.25" x2="412.45" y2="614.25" stroke="#000" stroke-width="1.7" stroke-linecap="butt"/>
<line x1="402.95" y1="631.25" x2="412.45" y2="631.25" stroke="#000" stroke-width="1.7" stroke-linecap="butt"/>
<line x1="430.4" y1="598.25" x2="430.4" y2="606" stroke="#000" stroke-width="1.7" stroke-linecap="butt"/>
<line x1="425.8" y1="598.25" x2="435" y2="598.25" stroke="#000" stroke-width="1.7" stroke-linecap="butt"/>
<rect x="422" y="605" width="16.75" height="65.7" fill="#000"/>
<rect x="460.25" y="623.25" width="15.25" height="47.45" fill="#fff" stroke="#000" stroke-width="1.5" stroke-linejoin="miter"/>
<line x1="467.8" y1="618" x2="467.8" y2="627" stroke="#000" stroke-width="1.7" stroke-linecap="butt"/>
<line x1="463.05" y1="618" x2="472.55" y2="618" stroke="#000" stroke-width="1.7" stroke-linecap="butt"/>
<line x1="463.05" y1="627" x2="472.55" y2="627" stroke="#000" stroke-width="1.7" stroke-linecap="butt"/>
<line x1="490.5" y1="563.75" x2="490.5" y2="569" stroke="#000" stroke-width="1.7" stroke-linecap="butt"/>
<line x1="485.9" y1="563.75" x2="495.1" y2="563.75" stroke="#000" stroke-width="1.7" stroke-linecap="butt"/>
<rect x="482" y="568.25" width="16.75" height="102.45" fill="#000"/>
<text transform="translate(489.7,565.6) scale(0.97,1)" font-size="15" text-anchor="middle" font-weight="bold" fill="#000">***</text>
<text transform="translate(364.6,682.1) rotate(-45)" font-size="15.1" text-anchor="end" font-weight="bold" fill="#000" stroke="#000" stroke-width="0.3">miR-378-3p</text>
<text transform="translate(425.8,680.5) rotate(-45)" font-size="15.1" text-anchor="end" font-weight="bold" fill="#000" stroke="#000" stroke-width="0.3">Ppargc1b</text>
<text transform="translate(484.3,680.8) rotate(-45)" font-size="15.1" text-anchor="end" font-weight="bold" fill="#000" stroke="#000" stroke-width="0.3">Bactin</text>
<line x1="60.2" y1="776" x2="60.2" y2="897.75" stroke="#000" stroke-width="1.7" stroke-linecap="butt"/>
<line x1="56.2" y1="776.75" x2="60.2" y2="776.75" stroke="#000" stroke-width="1.7" stroke-linecap="butt"/>
<text transform="translate(54.5,781.35) scale(0.95,1)" font-size="15.2" text-anchor="end" font-weight="bold" fill="#000" stroke="#000" stroke-width="0.3">4</text>
<line x1="56.2" y1="806.8" x2="60.2" y2="806.8" stroke="#000" stroke-width="1.7" stroke-linecap="butt"/>
<text transform="translate(54.5,811.4) scale(0.95,1)" font-size="15.2" text-anchor="end" font-weight="bold" fill="#000" stroke="#000" stroke-width="0.3">3</text>
<line x1="56.2" y1="836.9" x2="60.2" y2="836.9" stroke="#000" stroke-width="1.7" stroke-linecap="butt"/>
<text transform="translate(54.5,841.5) scale(0.95,1)" font-size="15.2" text-anchor="end" font-weight="bold" fill="#000" stroke="#000" stroke-width="0.3">2</text>
<line x1="56.2" y1="866.9" x2="60.2" y2="866.9" stroke="#000" stroke-width="1.7" stroke-linecap="butt"/>
<text transform="translate(54.5,871.5) scale(0.95,1)" font-size="15.2" text-anchor="end" font-weight="bold" fill="#000" stroke="#000" stroke-width="0.3">1</text>
<line x1="56.2" y1="897" x2="60.2" y2="897" stroke="#000" stroke-width="1.7" stroke-linecap="butt"/>
<text transform="translate(54.5,901.6) scale(0.95,1)" font-size="15.2" text-anchor="end" font-weight="bold" fill="#000" stroke="#000" stroke-width="0.3">0</text>
<line x1="59.45" y1="897" x2="240.5" y2="897" stroke="#000" stroke-width="1.7" stroke-linecap="butt"/>
<line x1="89.7" y1="897" x2="89.7" y2="901.5" stroke="#000" stroke-width="1.7" stroke-linecap="butt"/>
<line x1="150" y1="897" x2="150" y2="901.5" stroke="#000" stroke-width="1.7" stroke-linecap="butt"/>
<line x1="210.3" y1="897" x2="210.3" y2="901.5" stroke="#000" stroke-width="1.7" stroke-linecap="butt"/>
<text transform="translate(13,835.9) rotate(-90)" font-size="15" text-anchor="middle" font-weight="bold" fill="#000" stroke="#000" stroke-width="0.3">fold change</text>
<text transform="translate(124.5,769.5)" font-size="15.4" text-anchor="start" font-weight="bold" fill="#000" stroke="#000" stroke-width="0.3">CD4+</text>
<rect x="71.5" y="860.25" width="14.5" height="36.75" fill="#fff" stroke="#000" stroke-width="1.5" stroke-linejoin="miter"/>
<line x1="79.3" y1="850.5" x2="79.3" y2="870" stroke="#000" stroke-width="1.7" stroke-linecap="butt"/>
<line x1="74.8" y1="850.5" x2="83.8" y2="850.5" stroke="#000" stroke-width="1.7" stroke-linecap="butt"/>
<line x1="74.8" y1="870" x2="83.8" y2="870" stroke="#000" stroke-width="1.7" stroke-linecap="butt"/>
<line x1="101.6" y1="833" x2="101.6" y2="850" stroke="#000" stroke-width="1.7" stroke-linecap="butt"/>
<line x1="97" y1="833" x2="106.2" y2="833" stroke="#000" stroke-width="1.7" stroke-linecap="butt"/>
<rect x="93" y="848.75" width="16.5" height="48.25" fill="#000"/>
<rect x="131.25" y="868.75" width="14.75" height="28.25" fill="#fff" stroke="#000" stroke-width="1.5" stroke-linejoin="miter"/>
<line x1="138.75" y1="862" x2="138.75" y2="874.5" stroke="#000" stroke-width="1.7" stroke-linecap="butt"/>
<line x1="134.25" y1="862" x2="143.25" y2="862" stroke="#000" stroke-width="1.7" stroke-linecap="butt"/>
<line x1="134.25" y1="874.5" x2="143.25" y2="874.5" stroke="#000" stroke-width="1.7" stroke-linecap="butt"/>
<line x1="161.4" y1="860.75" x2="161.4" y2="868" stroke="#000" stroke-width="1.7" stroke-linecap="butt"/>
<line x1="156.8" y1="860.75" x2="166" y2="860.75" stroke="#000" stroke-width="1.7" stroke-linecap="butt"/>
<rect x="153.25" y="867" width="16.25" height="30" fill="#000"/>
<rect x="191.5" y="867.5" width="14.75" height="29.5" fill="#fff" stroke="#000" stroke-width="1.5" stroke-linejoin="miter"/>
<line x1="198.75" y1="861.25" x2="198.75" y2="872.5" stroke="#000" stroke-width="1.7" stroke-linecap="butt"/>
<line x1="194.25" y1="861.25" x2="203.25" y2="861.25" stroke="#000" stroke-width="1.7" stroke-linecap="butt"/>
<line x1="194.25" y1="872.5" x2="203.25" y2="872.5" stroke="#000" stroke-width="1.7" stroke-linecap="butt"/>
<line x1="221.9" y1="802" x2="221.9" y2="817" stroke="#000" stroke-width="1.7" stroke-linecap="butt"/>
<line x1="217.3" y1="802" x2="226.5" y2="802" stroke="#000" stroke-width="1.7" stroke-linecap="butt"/>
<rect x="213.25" y="815.75" width="16.75" height="81.25" fill="#000"/>
<text transform="translate(221.75,800.6) scale(0.97,1)" font-size="15" text-anchor="middle" font-weight="bold" fill="#000">*</text>
<text transform="translate(98,909.9) rotate(-45)" font-size="15.1" text-anchor="end" font-weight="bold" fill="#000" stroke="#000" stroke-width="0.3">miR-378-3p</text>
<text transform="translate(159.4,910.5) rotate(-45)" font-size="15.1" text-anchor="end" font-weight="bold" fill="#000" stroke="#000" stroke-width="0.3">Ppargc1b</text>
<text transform="translate(209.6,916.7) rotate(-45)" font-size="15.1" text-anchor="end" font-weight="bold" fill="#000" stroke="#000" stroke-width="0.3">Cd36</text>
<line x1="327" y1="842" x2="327" y2="898.55" stroke="#000" stroke-width="1.7" stroke-linecap="butt"/>
<line x1="327" y1="775.5" x2="327" y2="832" stroke="#000" stroke-width="1.7" stroke-linecap="butt"/>
<line x1="322.5" y1="842.4" x2="329.5" y2="842.4" stroke="#000" stroke-width="1.7" stroke-linecap="butt"/>
<text transform="translate(321.7,848.9) scale(0.95,1)" font-size="15.2" text-anchor="end" font-weight="bold" fill="#000" stroke="#000" stroke-width="0.3">3</text>
<line x1="322.5" y1="860.5" x2="327" y2="860.5" stroke="#000" stroke-width="1.7" stroke-linecap="butt"/>
<text transform="translate(321.7,865.1) scale(0.95,1)" font-size="15.2" text-anchor="end" font-weight="bold" fill="#000" stroke="#000" stroke-width="0.3">2</text>
<line x1="322.5" y1="879.2" x2="327" y2="879.2" stroke="#000" stroke-width="1.7" stroke-linecap="butt"/>
<text transform="translate(321.7,883.8) scale(0.95,1)" font-size="15.2" text-anchor="end" font-weight="bold" fill="#000" stroke="#000" stroke-width="0.3">1</text>
<line x1="322.5" y1="897.8" x2="327" y2="897.8" stroke="#000" stroke-width="1.7" stroke-linecap="butt"/>
<text transform="translate(321.7,902.4) scale(0.95,1)" font-size="15.2" text-anchor="end" font-weight="bold" fill="#000" stroke="#000" stroke-width="0.3">0</text>
<line x1="322.5" y1="776.25" x2="327" y2="776.25" stroke="#000" stroke-width="1.7" stroke-linecap="butt"/>
<text transform="translate(321.7,780.85) scale(0.95,1)" font-size="15.2" text-anchor="end" font-weight="bold" fill="#000" stroke="#000" stroke-width="0.3">40</text>
<line x1="322.5" y1="803.75" x2="327" y2="803.75" stroke="#000" stroke-width="1.7" stroke-linecap="butt"/>
<text transform="translate(321.7,808.35) scale(0.95,1)" font-size="15.2" text-anchor="end" font-weight="bold" fill="#000" stroke="#000" stroke-width="0.3">30</text>
<line x1="322.5" y1="831.25" x2="329.5" y2="831.25" stroke="#000" stroke-width="1.7" stroke-linecap="butt"/>
<text transform="translate(321.7,835.85) scale(0.95,1)" font-size="15.2" text-anchor="end" font-weight="bold" fill="#000" stroke="#000" stroke-width="0.3">20</text>
<line x1="326.25" y1="897.8" x2="511.2" y2="897.8" stroke="#000" stroke-width="1.7" stroke-linecap="butt"/>
<line x1="357.4" y1="897.8" x2="357.4" y2="902.3" stroke="#000" stroke-width="1.7" stroke-linecap="butt"/>
<line x1="418.9" y1="897.8" x2="418.9" y2="902.3" stroke="#000" stroke-width="1.7" stroke-linecap="butt"/>
<line x1="480.5" y1="897.8" x2="480.5" y2="902.3" stroke="#000" stroke-width="1.7" stroke-linecap="butt"/>
<text transform="translate(282.9,833.3) rotate(-90)" font-size="15" text-anchor="middle" font-weight="bold" fill="#000" stroke="#000" stroke-width="0.3">fold change</text>
<text transform="translate(400.9,774.4)" font-size="15.4" text-anchor="start" font-weight="bold" fill="#000" stroke="#000" stroke-width="0.3">CD8+</text>
<rect x="338.75" y="877.5" width="15" height="20.3" fill="#fff" stroke="#000" stroke-width="1.5" stroke-linejoin="miter"/>
<line x1="346.6" y1="873" x2="346.6" y2="880.75" stroke="#000" stroke-width="1.7" stroke-linecap="butt"/>
<line x1="342" y1="873" x2="351.2" y2="873" stroke="#000" stroke-width="1.7" stroke-linecap="butt"/>
<line x1="342" y1="880.75" x2="351.2" y2="880.75" stroke="#000" stroke-width="1.7" stroke-linecap="butt"/>
<line x1="369.1" y1="855.75" x2="369.1" y2="869" stroke="#000" stroke-width="1.7" stroke-linecap="butt"/>
<line x1="364.5" y1="855.75" x2="373.7" y2="855.75" stroke="#000" stroke-width="1.7" stroke-linecap="butt"/>
<rect x="360.75" y="868" width="16.45" height="29.8" fill="#000"/>
<rect x="461.55" y="879.95" width="15.4" height="17.85" fill="#fff" stroke="#000" stroke-width="1.5" stroke-linejoin="miter"/>
<line x1="469.1" y1="874.2" x2="469.1" y2="884.3" stroke="#000" stroke-width="1.7" stroke-linecap="butt"/>
<line x1="464.6" y1="874.2" x2="473.6" y2="874.2" stroke="#000" stroke-width="1.7" stroke-linecap="butt"/>
<line x1="464.6" y1="884.3" x2="473.6" y2="884.3" stroke="#000" stroke-width="1.7" stroke-linecap="butt"/>
<line x1="492.4" y1="783.75" x2="492.4" y2="798" stroke="#000" stroke-width="1.7" stroke-linecap="butt"/>
<line x1="487.8" y1="783.75" x2="497" y2="783.75" stroke="#000" stroke-width="1.7" stroke-linecap="butt"/>
<rect x="483.9" y="797" width="16.5" height="34.4" fill="#000"/>
<rect x="483.9" y="841.7" width="16.5" height="56.1" fill="#000"/>
<text transform="translate(491.8,782.6) scale(0.97,1)" font-size="15" text-anchor="middle" font-weight="bold" fill="#000">***</text>
<text transform="translate(404,892.6) rotate(-90) scale(1.07,1)" font-size="13.6" text-anchor="start" font-weight="bold" fill="#000" stroke="#000" stroke-width="0.3">n.d.</text>
<text transform="translate(425.5,892.6) rotate(-90) scale(1.07,1)" font-size="13.6" text-anchor="start" font-weight="bold" fill="#000" stroke="#000" stroke-width="0.3">n.d.</text>
<text transform="translate(364.8,909.9) rotate(-45)" font-size="15.1" text-anchor="end" font-weight="bold" fill="#000" stroke="#000" stroke-width="0.3">miR-378-3p</text>
<text transform="translate(429.6,910.5) rotate(-45)" font-size="15.1" text-anchor="end" font-weight="bold" fill="#000" stroke="#000" stroke-width="0.3">Ppargc1b</text>
<text transform="translate(490.6,911.1) rotate(-45)" font-size="15.1" text-anchor="end" font-weight="bold" fill="#000" stroke="#000" stroke-width="0.3">Ccna2</text>
</svg>
</body>
</html>
